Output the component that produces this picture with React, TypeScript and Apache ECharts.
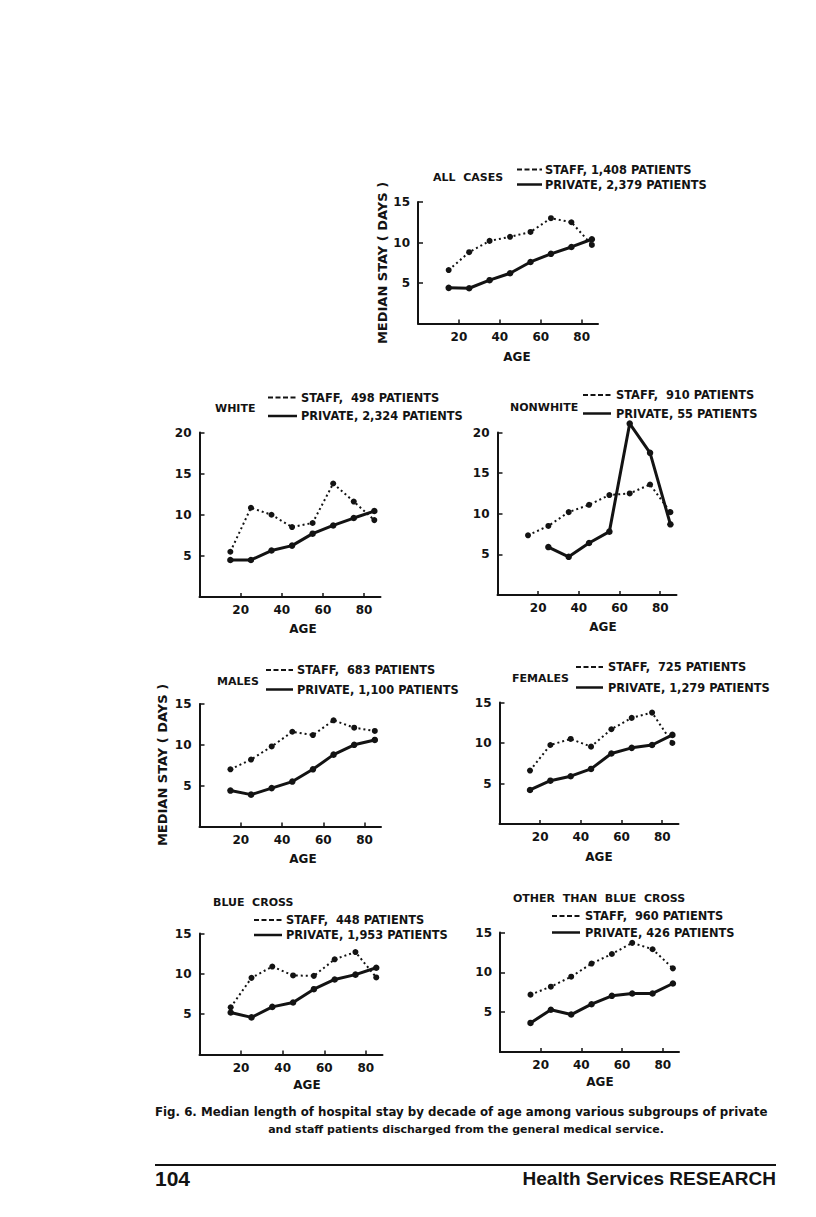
import React, { useEffect, useRef } from 'react';
import * as echarts from 'echarts';

// ---------- DATA ----------
const ages = [15, 25, 35, 45, 55, 65, 75, 85];
const xTickValues = [20, 40, 60, 80];

const panelTitles = ['ALL  CASES', 'WHITE', 'NONWHITE', 'MALES', 'FEMALES', 'BLUE  CROSS', 'OTHER  THAN  BLUE  CROSS'];
const staffLabels = [
  'STAFF, 1,408 PATIENTS',
  'STAFF,  498 PATIENTS',
  'STAFF,  910 PATIENTS',
  'STAFF,  683 PATIENTS',
  'STAFF,  725 PATIENTS',
  'STAFF,  448 PATIENTS',
  'STAFF,  960 PATIENTS',
];
const privateLabels = [
  'PRIVATE, 2,379 PATIENTS',
  'PRIVATE, 2,324 PATIENTS',
  'PRIVATE, 55 PATIENTS',
  'PRIVATE, 1,100 PATIENTS',
  'PRIVATE, 1,279 PATIENTS',
  'PRIVATE, 1,953 PATIENTS',
  'PRIVATE, 426 PATIENTS',
];

const allStaff = [6.6, 8.8, 10.2, 10.7, 11.3, 13.0, 12.5, 9.7];
const allPrivate = [4.4, 4.35, 5.35, 6.2, 7.6, 8.6, 9.45, 10.4];
const whiteStaff = [5.5, 10.85, 10.0, 8.5, 9.0, 13.8, 11.6, 9.35];
const whitePrivate = [4.5, 4.5, 5.65, 6.25, 7.7, 8.7, 9.6, 10.45];
const nonwhiteStaff = [7.35, 8.5, 10.2, 11.1, 12.3, 12.5, 13.6, 10.2];
const nonwhitePrivate = [null, 5.9, 4.7, 6.4, 7.8, 21.1, 17.5, 8.7];
const maleStaff = [7.0, 8.2, 9.8, 11.6, 11.2, 13.0, 12.1, 11.7];
const malePrivate = [4.4, 3.9, 4.7, 5.5, 7.0, 8.8, 10.0, 10.6];
const femaleStaff = [6.6, 9.75, 10.5, 9.55, 11.7, 13.1, 13.75, 10.0];
const femalePrivate = [4.2, 5.35, 5.9, 6.8, 8.7, 9.4, 9.75, 11.0];
const blueCrossStaff = [5.85, 9.5, 10.9, 9.8, 9.75, 11.8, 12.7, 9.55];
const blueCrossPrivate = [5.2, 4.6, 5.9, 6.45, 8.1, 9.3, 9.9, 10.75];
const otherStaff = [7.2, 8.2, 9.45, 11.1, 12.3, 13.7, 12.9, 10.5];
const otherPrivate = [3.65, 5.3, 4.7, 6.0, 7.05, 7.35, 7.35, 8.6];

const staffSeries = [allStaff, whiteStaff, nonwhiteStaff, maleStaff, femaleStaff, blueCrossStaff, otherStaff];
const privateSeries = [allPrivate, whitePrivate, nonwhitePrivate, malePrivate, femalePrivate, blueCrossPrivate, otherPrivate];
const yMaxes = [15, 20, 20, 15, 15, 15, 15];

const yAxisTitle = 'MEDIAN STAY ( DAYS )';
const xAxisTitle = 'AGE';
const captionLine1 = 'Fig. 6. Median length of hospital stay by decade of age among various subgroups of private';
const captionLine2 = 'and staff patients discharged from the general medical service.';
const pageNumber = '104';
const journalName = 'Health Services RESEARCH';

// ---------- LAYOUT ----------
const layouts = [
  { left: 418, top: 202, width: 180, height: 121.5, title: [433, 177], leg: [517, 542, 169.5, 184.5, 545], age: [517, 357], ytitle: [382, 263] },
  { left: 199.5, top: 432.5, width: 181, height: 164.5, title: [215, 408], leg: [268, 297, 397.5, 416, 301], age: [303, 629] },
  { left: 497.5, top: 432.5, width: 179, height: 162.5, title: [510, 407], leg: [583, 611, 395, 413.5, 616], age: [603, 627] },
  { left: 199.5, top: 704, width: 181.5, height: 122.5, title: [217, 681], leg: [266, 293, 670, 689.5, 297], age: [303, 859], ytitle: [162, 765] },
  { left: 499.5, top: 702.5, width: 179, height: 121.5, title: [512, 678.5], leg: [576, 603, 667, 687.5, 608], age: [599, 857] },
  { left: 199.5, top: 933.5, width: 183, height: 121, title: [213, 902], leg: [254, 282, 920, 935, 286], age: [307, 1085] },
  { left: 500, top: 932.5, width: 179, height: 119.5, title: [513, 898.5], leg: [552, 580, 916, 932.5, 585], age: [600, 1082] },
];

const INK = '#131313';
const FONT = '"DejaVu Sans", sans-serif';

function txt(text: string, x: number, y: number, size: number, align = 'left', extra: any = {}) {
  return {
    type: 'text',
    x,
    y,
    ...extra,
    style: {
      text,
      fill: INK,
      font: `bold ${size}px ${FONT}`,
      textAlign: align,
      textVerticalAlign: 'middle',
      align,
      verticalAlign: 'middle',
    },
  };
}

function buildOption() {
  const grid: any[] = [];
  const xAxis: any[] = [];
  const yAxis: any[] = [];
  const series: any[] = [];
  const graphic: any[] = [];

  layouts.forEach((L, i) => {
    grid.push({ left: L.left, top: L.top, width: L.width, height: L.height, containLabel: false, outerBoundsMode: 'none' });
    xAxis.push({
      type: 'value',
      gridIndex: i,
      min: 0,
      max: 88,
      interval: 20,
      splitLine: { show: false },
      axisLine: { show: true, onZero: false, lineStyle: { color: INK, width: 2 } },
      axisTick: { show: true, inside: true, length: 4, lineStyle: { color: INK, width: 1.5 }, customValues: xTickValues },
      axisLabel: {
        show: true,
        customValues: xTickValues,
        margin: 7,
        color: INK,
        fontSize: 12,
        fontWeight: 'bold',
        fontFamily: FONT,
      },
    });
    yAxis.push({
      type: 'value',
      gridIndex: i,
      min: 0,
      max: yMaxes[i],
      interval: 5,
      splitLine: { show: false },
      axisLine: { show: true, onZero: false, lineStyle: { color: INK, width: 2 } },
      axisTick: { show: true, inside: true, length: 5, lineStyle: { color: INK, width: 1.5 } },
      axisLabel: {
        show: true,
        showMinLabel: false,
        margin: 8,
        color: INK,
        fontSize: 12,
        fontWeight: 'bold',
        fontFamily: FONT,
      },
    });

    const toPairs = (arr: (number | null)[]) =>
      arr.map((v, k) => (v === null ? null : [ages[k], v])).filter((p) => p !== null);

    series.push({
      type: 'line',
      name: staffLabels[i],
      xAxisIndex: i,
      yAxisIndex: i,
      data: toPairs(staffSeries[i]),
      symbol: 'circle',
      symbolSize: 6,
      clip: false,
      itemStyle: { color: INK },
      lineStyle: { color: INK, width: 2, type: [2, 3] },
      z: 3,
    });
    series.push({
      type: 'line',
      name: privateLabels[i],
      xAxisIndex: i,
      yAxisIndex: i,
      data: toPairs(privateSeries[i]),
      symbol: 'circle',
      symbolSize: 6.5,
      clip: false,
      itemStyle: { color: INK },
      lineStyle: { color: INK, width: 3 },
      z: 4,
    });

    // panel title + legend
    graphic.push(txt(panelTitles[i], L.title[0], L.title[1], 11));
    const [x1, x2, yS, yP, tx] = L.leg;
    graphic.push({ type: 'line', shape: { x1, y1: yS, x2, y2: yS }, style: { stroke: INK, lineWidth: 2, lineDash: [5, 2.5] } });
    graphic.push({ type: 'line', shape: { x1, y1: yP, x2, y2: yP }, style: { stroke: INK, lineWidth: 2.5 } });
    graphic.push(txt(staffLabels[i], tx, yS, 11.4));
    graphic.push(txt(privateLabels[i], tx, yP, 11.4));
    graphic.push(txt(xAxisTitle, L.age[0], L.age[1], 12, 'center'));
    if (L.ytitle) {
      graphic.push(txt(yAxisTitle, L.ytitle[0], L.ytitle[1], 13, 'center', { rotation: Math.PI / 2 }));
    }
  });

  // caption and footer
  graphic.push(txt(captionLine1, 155, 1112, 11.8, 'left'));
  graphic.push(txt(captionLine2, 466, 1129, 11, 'center'));
  graphic.push({ type: 'line', shape: { x1: 155, y1: 1165, x2: 776, y2: 1165 }, style: { stroke: INK, lineWidth: 2 } });
  graphic.push({
    type: 'text',
    x: 155,
    y: 1178,
    style: { text: pageNumber, fill: INK, font: 'bold 21px "Liberation Sans", Arial, sans-serif', textAlign: 'left', textVerticalAlign: 'middle', align: 'left', verticalAlign: 'middle' },
  });
  graphic.push({
    type: 'text',
    x: 776,
    y: 1178,
    style: { text: journalName, fill: INK, font: 'bold 19px "Liberation Sans", Arial, sans-serif', textAlign: 'right', textVerticalAlign: 'middle', align: 'right', verticalAlign: 'middle' },
  });

  return {
    animation: false,
    backgroundColor: '#ffffff',
    grid,
    xAxis,
    yAxis,
    series,
    graphic: { elements: graphic },
  };
}

export default function App() {
  const ref = useRef<HTMLDivElement>(null);
  useEffect(() => {
    if (!ref.current) return;
    const chart = echarts.init(ref.current, null, { renderer: 'svg', width: 816, height: 1217 });
    chart.setOption(buildOption() as any);
    return () => chart.dispose();
  }, []);
  return (
    <div
      ref={ref}
      style={{ position: 'absolute', left: 0, top: 0, width: 816, height: 1217, background: '#ffffff' }}
    />
  );
}
